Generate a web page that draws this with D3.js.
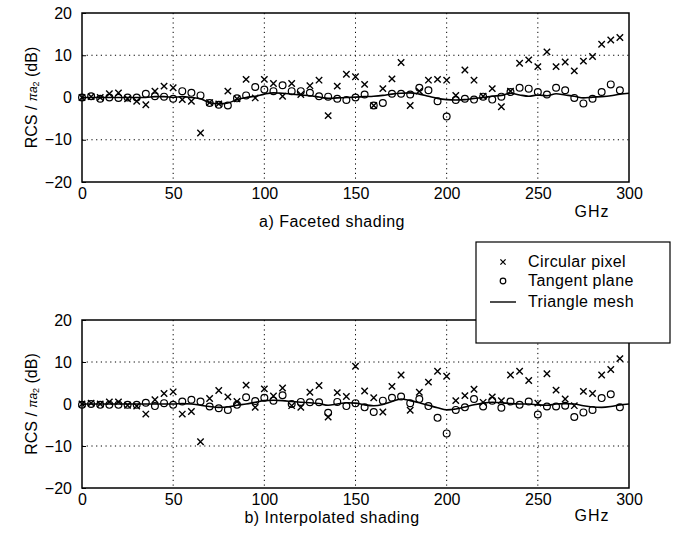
<!DOCTYPE html>
<html><head><meta charset="utf-8">
<script src="https://cdn.jsdelivr.net/npm/d3@7"></script>
<style>
html,body{margin:0;padding:0;background:#fff;}
text{font-family:"Liberation Sans",Arial,Helvetica,sans-serif;fill:#000;}
</style></head>
<body><svg id="c" width="676" height="542"></svg>
<script>
const markerFreqs = [0,5,10,15,20,25,30,35,40,45,50,55,60,65,70,75,80,85,90,95,
 100,105,110,115,120,125,130,135,140,145,150,155,160,165,170,175,180,185,190,195,
 200,205,210,215,220,225,230,235,240,245,250,255,260,265,270,275,280,285,290,295];
const lineFreqs = [0,5,10,15,20,25,30,35,40,45,50,55,60,65,70,75,80,85,90,95,
 100,105,110,115,120,125,130,135,140,145,150,155,160,165,170,175,180,185,190,195,
 200,205,210,215,220,225,230,235,240,245,250,255,260,265,270,275,280,285,290,295,300];

const facetedCircular = [0,0.2,0,0.9,1.1,-0.3,-0.9,-1.7,1.5,2.7,
 2.3,-0.5,-0.9,-8.4,-1.2,-1.5,1.5,-0.3,4.3,-0.1,
 4.3,3.3,0.3,3.3,0.7,2.8,4.1,-4.3,2.7,5.5,
 4.9,3.1,-1.9,2.1,4.4,8.3,-1.9,1.5,4.1,4.3,
 4.1,0.5,6.5,4.1,0.3,2.1,-2.2,1.5,8.1,8.9,
 7.3,10.8,7.3,8.4,6.3,8.6,9.7,12.6,13.6,14.2];
const facetedTangent = [0,0.3,-0.3,0,-0.1,0,0,0.9,0.3,0.2,
 -0.3,1.5,1.1,0.5,-1.3,-1.7,-1.9,-0.2,0.5,2.5,
 1.9,1.5,2.9,1.5,1.5,1.1,0.3,0.2,-0.3,-0.6,
 0,0.7,-1.9,-1.3,0.9,0.9,0.7,2.3,1.7,-0.9,
 -4.5,-0.6,-0.3,-0.5,0.2,-0.5,0.2,1.3,2.3,2.1,
 1.3,0.7,2.3,1.7,-0.1,-1.4,-0.3,1.3,3.1,1.7];
const facetedMesh = [0,0,0,0,0,0,0,0,0.2,0.2,
 0,0.2,0,-0.3,-1.2,-1.5,-1.3,-0.5,0,0.3,
 0.8,1.1,1.0,0.8,0.6,0.4,0.1,-0.2,-0.1,0,
 0.1,0.2,0.3,0.5,0.8,1.0,1.1,0.8,0.3,-0.2,
 -0.5,-0.6,-0.5,-0.2,0,0.3,0.5,1.0,0.6,0.3,
 0.6,0.4,0.9,0.6,0.3,-0.1,0.1,0.2,0.4,0.8,1.0];

const interpCircular = [0,0.2,0,0.5,0.5,-0.3,-0.5,-2.4,1.0,2.5,
 2.9,-2.4,-1.8,-9.0,1.3,3.2,1.7,0.6,4.5,-0.8,
 3.6,1.9,3.8,-0.4,-0.8,2.8,4.4,-3.1,2.7,1.8,
 9.0,3.1,1.5,-1.9,4.2,6.9,-1.5,2.8,5.2,7.8,
 6.6,0.8,2.0,3.5,0.4,1.7,0.8,6.9,7.8,5.6,
 0.2,7.2,3.3,1.2,-0.4,3.0,2.5,6.9,8.2,10.8];
const interpTangent = [-0.2,0,-0.2,-0.2,-0.2,-0.2,-0.2,0.3,-0.5,0.2,
 -0.2,0.6,1.0,0.6,-0.6,-1.0,-1.4,-0.2,1.6,0.7,
 1.5,0.8,2.1,0,0.5,0.4,0.4,-2.1,0.5,-0.5,
 0.2,-0.8,-1.9,0.8,1.5,1.8,0.2,1.2,-0.5,-3.3,
 -7.0,-1.4,-0.8,1.2,-0.6,0.8,-0.9,0.6,-0.2,0.6,
 -2.5,-0.6,-0.6,-0.4,-3.1,-2.0,-1.4,1.4,2.3,-0.8];
const interpMesh = [0,0,0,0,0,0,0,0,0,0,
 0,0.1,0,-0.3,-0.6,-0.8,-0.7,-0.3,0,0.4,
 0.8,0.9,0.8,0.6,0.4,0.3,0.1,-0.3,0,0.3,
 0.2,-0.2,-0.4,-0.1,0.6,1.2,0.8,0.3,-0.3,-0.9,
 -1.4,-1.2,-0.7,-0.2,0.2,0.4,0.3,0.1,0,0,
 -0.2,-0.3,0,0.1,0,-0.4,-0.7,-0.8,-0.6,-0.2,0];

const xTicks = [0,50,100,150,200,250,300];
const yTicks = [-20,-10,0,10,20];
const gridX = [50,100,150,200,250];
const gridY = [-10,10];
const legendLabels = ["Circular pixel","Tangent plane","Triangle mesh"];

const svg = d3.select("#c");
const X0 = 82, X1 = 629;
const x = d3.scaleLinear().domain([0,300]).range([X0,X1]);
const FONT = '"Liberation Sans",Arial,sans-serif';

function panel(top, bottom, circ, tang, mesh, title, titleY, ghzY) {
  const y = d3.scaleLinear().domain([-20,20]).range([bottom, top]);
  const g = svg.append("g");
  g.selectAll(".gx").data(gridX).join("line")
    .attr("x1", d => x(d)).attr("x2", d => x(d)).attr("y1", top).attr("y2", bottom)
    .attr("stroke", "#000").attr("stroke-width", 1).attr("stroke-dasharray", "1.2,3.5");
  g.selectAll(".gy").data(gridY).join("line")
    .attr("x1", X0).attr("x2", X1).attr("y1", d => y(d)).attr("y2", d => y(d))
    .attr("stroke", "#000").attr("stroke-width", 1).attr("stroke-dasharray", "1.2,3.5");
  const ax = d3.axisBottom(x).tickValues(xTicks).tickSize(0).tickPadding(6);
  const ga = g.append("g").attr("transform", `translate(0,${bottom})`).call(ax);
  ga.select(".domain").remove();
  ga.selectAll("text").attr("font-size", 16).attr("font-family", FONT);
  const ay = d3.axisLeft(y).tickValues(yTicks).tickSize(-4).tickPadding(10);
  const gy = g.append("g").attr("transform", `translate(${X0},0)`).call(ay);
  gy.select(".domain").remove();
  gy.selectAll("text").attr("font-size", 16).attr("font-family", FONT);
  g.append("rect").attr("x", X0).attr("y", top).attr("width", X1 - X0).attr("height", bottom - top)
    .attr("fill", "none").attr("stroke", "#000").attr("stroke-width", 1.5);
  const line = d3.line().x((d,i) => x(lineFreqs[i])).y(d => y(d)).curve(d3.curveMonotoneX);
  g.append("path").datum(mesh).attr("d", line).attr("fill", "none").attr("stroke", "#000").attr("stroke-width", 1.6);
  g.selectAll(".c").data(tang).join("circle")
    .attr("cx", (d,i) => x(markerFreqs[i])).attr("cy", d => y(d)).attr("r", 3.4)
    .attr("fill", "none").attr("stroke", "#000").attr("stroke-width", 1.2);
  const s = 3.2;
  g.selectAll(".x").data(circ).join("path")
    .attr("d", (d,i) => { const cx = x(markerFreqs[i]), cy = y(d);
      return `M${cx-s},${cy-s}L${cx+s},${cy+s}M${cx-s},${cy+s}L${cx+s},${cy-s}`; })
    .attr("stroke", "#000").attr("stroke-width", 1.4).attr("fill", "none");
  const yl = g.append("text").attr("transform", `translate(37,${y(0)}) rotate(-90)`)
    .attr("text-anchor", "middle").attr("font-size", 16);
  yl.append("tspan").text("RCS / ");
  yl.append("tspan").attr("font-size", 12).attr("font-style", "italic").text("πa");
  yl.append("tspan").attr("font-size", 9).attr("dy", 2).text("2");
  yl.append("tspan").attr("dy", -2).text(" (dB)");
  g.append("text").attr("x", 332).attr("y", titleY).attr("text-anchor", "middle")
    .attr("font-size", 16).attr("letter-spacing", 0.5).text(title);
  g.append("text").attr("x", 592).attr("y", ghzY).attr("text-anchor", "middle")
    .attr("font-size", 16).attr("letter-spacing", 1).text("GHz");
}

panel(13, 182, facetedCircular, facetedTangent, facetedMesh, "a) Faceted shading", 227, 217);
panel(320, 488, interpCircular, interpTangent, interpMesh, "b) Interpolated shading", 523, 521);

const lg = svg.append("g");
lg.append("rect").attr("x", 476).attr("y", 242).attr("width", 194).attr("height", 101)
  .attr("fill", "#fff").attr("stroke", "#000").attr("stroke-width", 1.2);
const ly = [262, 281, 302];
lg.selectAll("text").data(legendLabels).join("text")
  .attr("x", 528).attr("y", (d,i) => ly[i] + 5).attr("font-size", 16).attr("letter-spacing", 0.4).text(d => d);
const lx = 503, s2 = 2.6;
lg.append("path").attr("d", `M${lx-s2},${ly[0]-s2}L${lx+s2},${ly[0]+s2}M${lx-s2},${ly[0]+s2}L${lx+s2},${ly[0]-s2}`)
  .attr("stroke", "#000").attr("stroke-width", 1.3);
lg.append("circle").attr("cx", lx).attr("cy", ly[1]).attr("r", 2.8).attr("fill", "none").attr("stroke", "#000").attr("stroke-width", 1.2);
lg.append("line").attr("x1", 490).attr("x2", 516).attr("y1", ly[2]).attr("y2", ly[2]).attr("stroke", "#000").attr("stroke-width", 1.4);
</script></body></html>
